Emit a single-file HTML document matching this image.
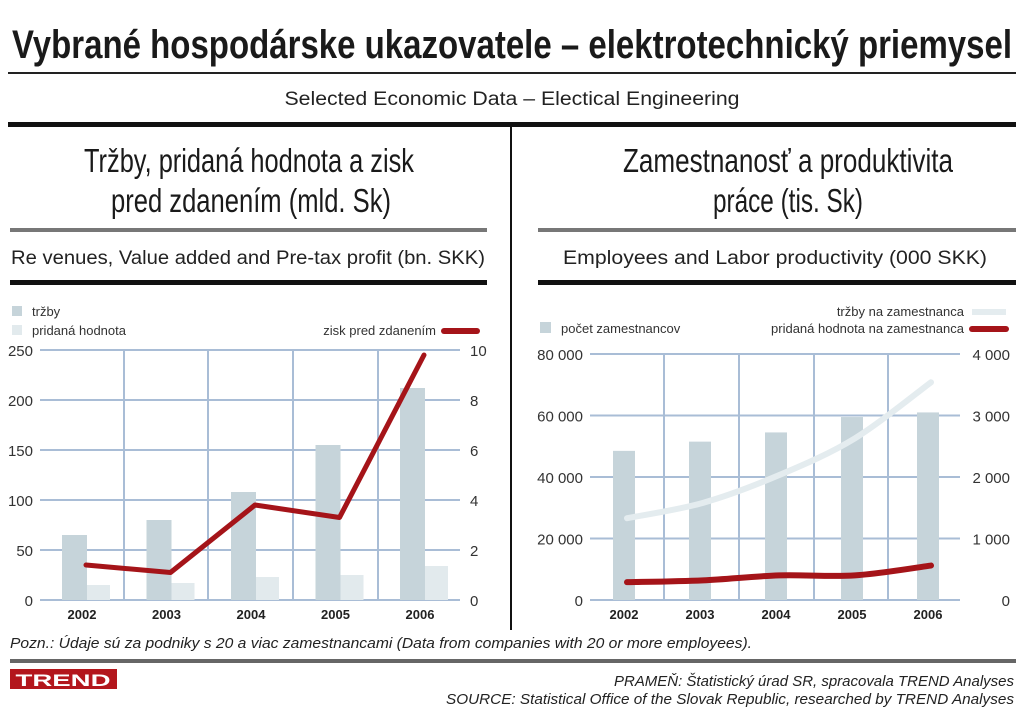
<!DOCTYPE html>
<html><head><meta charset="utf-8"><style>
body{margin:0;background:#fff;}
svg{display:block;font-family:"Liberation Sans",sans-serif;}
.n{font-family:"Liberation Sans Narrow","Liberation Sans",sans-serif;}
</style></head><body>
<svg width="1024" height="719" viewBox="0 0 1024 719">
<text class="n" x="512" y="58" text-anchor="middle" font-size="40" font-weight="bold" fill="#1a1a1a" textLength="1000" lengthAdjust="spacingAndGlyphs">Vybrané hospodárske ukazovatele – elektrotechnický priemysel</text>
<rect x="8" y="72" width="1008" height="2" fill="#222"/>
<text class="n" x="512" y="105" text-anchor="middle" font-size="19" fill="#222" textLength="455" lengthAdjust="spacingAndGlyphs">Selected Economic Data – Electical Engineering</text>
<rect x="8" y="122" width="1008" height="5" fill="#111"/>
<rect x="510" y="125" width="2" height="505" fill="#111"/>

<g>
<text class="n" x="249" y="172" text-anchor="middle" font-size="33" fill="#1a1a1a" textLength="330" lengthAdjust="spacingAndGlyphs">Tržby, pridaná hodnota a zisk</text>
<text class="n" x="251" y="212" text-anchor="middle" font-size="33" fill="#1a1a1a" textLength="280" lengthAdjust="spacingAndGlyphs">pred zdanením (mld. Sk)</text>
<rect x="10" y="228" width="477" height="4" fill="#777"/>
<text class="n" x="248" y="264" text-anchor="middle" font-size="19" fill="#222" textLength="474" lengthAdjust="spacingAndGlyphs">Re venues, Value added and Pre-tax profit (bn. SKK)</text>
<rect x="10" y="280" width="477" height="5" fill="#111"/>
</g>
<g>
<text class="n" x="788" y="172" text-anchor="middle" font-size="33" fill="#1a1a1a" textLength="330" lengthAdjust="spacingAndGlyphs">Zamestnanosť a produktivita</text>
<text class="n" x="788" y="212" text-anchor="middle" font-size="33" fill="#1a1a1a" textLength="150" lengthAdjust="spacingAndGlyphs">práce (tis. Sk)</text>
<rect x="538" y="228" width="478" height="4" fill="#777"/>
<text class="n" x="775" y="264" text-anchor="middle" font-size="19" fill="#222" textLength="424" lengthAdjust="spacingAndGlyphs">Employees and Labor productivity (000 SKK)</text>
<rect x="538" y="280" width="478" height="5" fill="#111"/>
</g>

<g id="left"></g>
<g id="right"></g>

<text class="n" x="10" y="648" font-size="15" font-style="italic" fill="#222" textLength="742" lengthAdjust="spacingAndGlyphs">Pozn.: Údaje sú za podniky s 20 a viac zamestnancami (Data from companies with 20 or more employees).</text>
<rect x="10" y="659" width="1006" height="4" fill="#666"/>
<g>
<rect x="10" y="669" width="107" height="20" fill="#b3161c"/>
<text x="63" y="686" text-anchor="middle" font-size="17" font-weight="bold" fill="#fff" textLength="95" lengthAdjust="spacingAndGlyphs">TREND</text>
</g>
<text class="n" x="1014" y="686" text-anchor="end" font-size="15" font-style="italic" fill="#222" textLength="400" lengthAdjust="spacingAndGlyphs">PRAMEŇ: Štatistický úrad SR, spracovala TREND Analyses</text>
<text class="n" x="1014" y="704" text-anchor="end" font-size="15" font-style="italic" fill="#222" textLength="568" lengthAdjust="spacingAndGlyphs">SOURCE: Statistical Office of the Slovak Republic, researched by TREND Analyses</text>
</svg>
<script>
const years = ["2002","2003","2004","2005","2006"];
const trzby = [65, 80, 108, 155, 212];
const pridana = [15, 17, 23, 25, 34];
const zisk = [1.4, 1.1, 3.8, 3.3, 9.8];
const leftTicks = [0, 50, 100, 150, 200, 250];
const leftTicksR = [0, 2, 4, 6, 8, 10];
const employees = [48500, 51500, 54500, 59500, 61000];
const trzbyNaZam = [1330, 1580, 2030, 2630, 3540];
const pridanaNaZam = [290, 320, 400, 400, 560];
const rightTicks = ["0", "20 000", "40 000", "60 000", "80 000"];
const rightTicksR = ["0", "1 000", "2 000", "3 000", "4 000"];
const NS = "http://www.w3.org/2000/svg";
function mk(p, tag, at, txt){const e=document.createElementNS(NS,tag);for(const k in at)e.setAttribute(k,at[k]);if(txt!==undefined)e.textContent=txt;p.appendChild(e);return e;}

// LEFT
(function(){
const g=document.getElementById('left');
const y0=600,y1=350, x0=40,x1=460;
const yL=v=>y0-(v/250)*(y0-y1), yR=v=>y0-(v/10)*(y0-y1);
const cx=i=>82+i*84.5;
leftTicks.forEach((t,i)=>{
 let l=mk(g,'line',{x1:x0,x2:x1,y1:yL(t),y2:yL(t),stroke:'#a9bdd6','stroke-width':2});
 
 
 let a=mk(g,'text',{x:33,y:yL(t)+6,'text-anchor':'end','font-size':15,fill:'#333'},t);
 
 
 let b=mk(g,'text',{x:470,y:yR(leftTicksR[i])+6,'font-size':15,fill:'#333'},leftTicksR[i]);
 
 
});
[124,208,293,378].forEach(x=>{let l=mk(g,'line',{x1:x,x2:x,y1:y1,y2:y0,stroke:'#a9bdd6','stroke-width':2});
 
 });
years.forEach((yr,i)=>{
 let r=mk(g,'rect',{x:cx(i)-20,y:yL(trzby[i]),width:25,height:y0-yL(trzby[i]),fill:'#c6d4da'});
 
 
 let r2=mk(g,'rect',{x:cx(i)+5,y:yL(pridana[i]),width:23,height:y0-yL(pridana[i]),fill:'#e2eaed'});
 
 
 let t=mk(g,'text',{x:cx(i),y:619,'text-anchor':'middle','font-size':13,'font-weight':'bold',fill:'#222'},yr);
 
 
});
let pl=mk(g,'polyline',{points:zisk.map((v,i)=>(cx(i)+4)+','+yR(v)).join(' '),fill:'none',stroke:'#a51419','stroke-width':5,'stroke-linejoin':'round','stroke-linecap':'round'});


let lg=mk(g,'g',{});


mk(lg,'rect',{x:12,y:306,width:10,height:10,fill:'#c6d4da'});
mk(lg,'text',{x:32,y:316,'font-size':13,fill:'#333'},'tržby');
mk(lg,'rect',{x:12,y:325,width:10,height:10,fill:'#e2eaed'});
mk(lg,'text',{x:32,y:335,'font-size':13,fill:'#333'},'pridaná hodnota');
mk(lg,'text',{x:436,y:335,'text-anchor':'end','font-size':13,fill:'#333'},'zisk pred zdanením');
mk(lg,'line',{x1:444,x2:477,y1:331,y2:331,stroke:'#a51419','stroke-width':6,'stroke-linecap':'round'});
})();

// RIGHT
(function(){
const g=document.getElementById('right');
const y0=600,y1=354,x0=590,x1=960;
const yL=v=>y0-(v/80000)*(y0-y1), yR=v=>y0-(v/4000)*(y0-y1);
const cx=i=>624+i*76;
rightTicks.forEach((t,i)=>{
 const v=i*20000;
 let l=mk(g,'line',{x1:x0,x2:x1,y1:yL(v),y2:yL(v),stroke:'#a9bdd6','stroke-width':2});
 
 
 let a=mk(g,'text',{x:583,y:yL(v)+6,'text-anchor':'end','font-size':15,fill:'#333'},t);
 
 
 let b=mk(g,'text',{x:1010,y:yR(i*1000)+6,'text-anchor':'end','font-size':15,fill:'#333'},rightTicksR[i]);
 
 
});
[664,739,814,888].forEach(x=>{let l=mk(g,'line',{x1:x,x2:x,y1:y1,y2:y0,stroke:'#a9bdd6','stroke-width':2});
 
 });
years.forEach((yr,i)=>{
 let r=mk(g,'rect',{x:cx(i)-11,y:yL(employees[i]),width:22,height:y0-yL(employees[i]),fill:'#c6d4da'});
 
 
 let t=mk(g,'text',{x:cx(i),y:619,'text-anchor':'middle','font-size':13,'font-weight':'bold',fill:'#222'},yr);
 
 
});
function smooth(vals){const pts=vals.map((v,i)=>[cx(i)+3,yR(v)]);let d='M'+pts[0].join(',');
 for(let i=0;i<pts.length-1;i++){const p0=pts[i-1]||pts[i],p1=pts[i],p2=pts[i+1],p3=pts[i+2]||p2;
 d+=' C'+(p1[0]+(p2[0]-p0[0])/6)+','+(p1[1]+(p2[1]-p0[1])/6)+' '+(p2[0]-(p3[0]-p1[0])/6)+','+(p2[1]-(p3[1]-p1[1])/6)+' '+p2[0]+','+p2[1];}
 return d;}
let l1=mk(g,'path',{d:smooth(trzbyNaZam),fill:'none',stroke:'#e4ecef','stroke-width':6,'stroke-linecap':'round'});


let l2=mk(g,'path',{d:smooth(pridanaNaZam),fill:'none',stroke:'#a51419','stroke-width':6,'stroke-linecap':'round'});


let lg=mk(g,'g',{});


mk(lg,'rect',{x:540,y:322,width:11,height:11,fill:'#c6d4da'});
mk(lg,'text',{x:561,y:333,'font-size':13,fill:'#333'},'počet zamestnancov');
mk(lg,'text',{x:964,y:316,'text-anchor':'end','font-size':13,fill:'#333'},'tržby na zamestnanca');
mk(lg,'line',{x1:972,x2:1006,y1:312,y2:312,stroke:'#e4ecef','stroke-width':6});
mk(lg,'text',{x:964,y:333,'text-anchor':'end','font-size':13,fill:'#333'},'pridaná hodnota na zamestnanca');
mk(lg,'line',{x1:972,x2:1006,y1:329,y2:329,stroke:'#a51419','stroke-width':6,'stroke-linecap':'round'});
})();
</script>
</body></html>
